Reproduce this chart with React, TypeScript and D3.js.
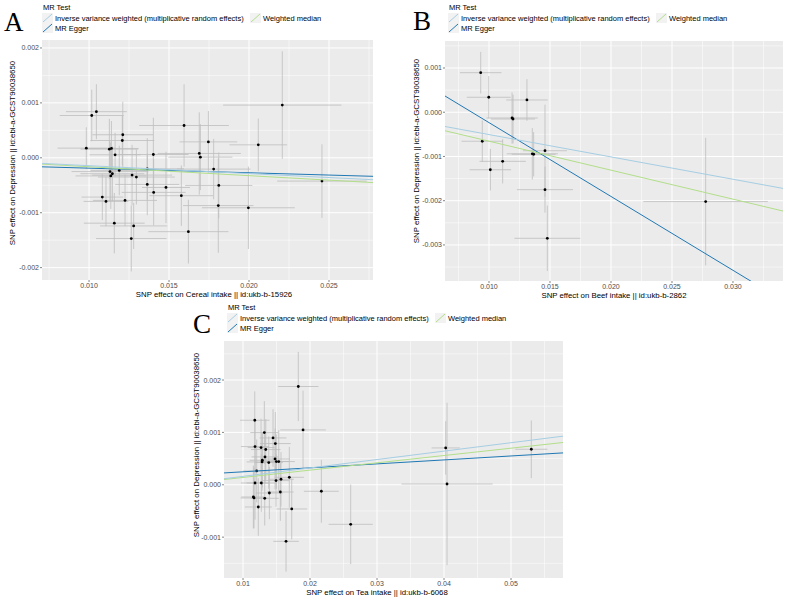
import * as d3 from "d3";

const SANS = "'Liberation Sans', Arial, Helvetica, sans-serif";
const SERIF = "'Liberation Serif', 'Times New Roman', serif";

const methodNames = [
  "Inverse variance weighted (multiplicative random effects)",
  "MR Egger",
  "Weighted median",
];
const methodColors = ["#a6cee3", "#1f78b4", "#b2df8a"];
const legendTitle = "MR Test";
const yTitle = "SNP effect on Depression || id:ebi-a-GCST90038650";

// A - cereal intake
const cerealX = [0.01017, 0.01046, 0.00983, 0.01211, 0.01208, 0.01127, 0.0114, 0.01163, 0.01594, 0.01746, 0.01689, 0.01696, 0.01402, 0.02058, 0.02208, 0.01364, 0.01779, 0.01131, 0.01146, 0.01136, 0.01189, 0.01269, 0.01296, 0.01364, 0.01404, 0.01481, 0.01577, 0.01811, 0.01808, 0.01996, 0.02456, 0.01083, 0.01106, 0.01225, 0.01158, 0.01279, 0.01264, 0.01621];
const cerealY = [0.00077, 0.00084, 0.000176, 0.00042, 0.000315, 0.000158, 0.00017, 0.000055, 0.000588, 0.00029, 0.000079, 0.000012, 0.00006, 0.000236, 0.00096, -0.0002, -0.000206, -0.00025, -0.00029, -0.00033, -0.00023, -0.000315, -0.00035, -0.000485, -0.00063, -0.00054, -0.00069, -0.000503, -0.00087, -0.00091, -0.000424, -0.000715, -0.000794, -0.000776, -0.00119, -0.00124, -0.00147, -0.001345];
const cerealSeX = [0.002, 0.0019, 0.0018, 0.0019, 0.002, 0.0018, 0.0017, 0.0016, 0.0028, 0.0018, 0.0026, 0.002, 0.0022, 0.0018, 0.0037, 0.0023, 0.0023, 0.0024, 0.002, 0.0022, 0.0018, 0.0025, 0.0024, 0.002, 0.002, 0.0015, 0.002, 0.0021, 0.0022, 0.0029, 0.0028, 0.0013, 0.0014, 0.002, 0.0019, 0.0021, 0.0022, 0.0025];
const cerealSeY = [0.00047, 0.0005, 0.00038, 0.0006, 0.00045, 0.00055, 0.0005, 0.0004, 0.00075, 0.00056, 0.00075, 0.0006, 0.00067, 0.00048, 0.00098, 0.00056, 0.00055, 0.00055, 0.0005, 0.0006, 0.00045, 0.00055, 0.0005, 0.00056, 0.0006, 0.00065, 0.00055, 0.0006, 0.00086, 0.00075, 0.00067, 0.00042, 0.00045, 0.00047, 0.00055, 0.00042, 0.0006, 0.00058];
const cerealSlopes = [-0.01437, -0.00837, -0.01627]; // ivw, egger, weighted median
const cerealEggerIntercept = -0.000105;
const cerealXTicks = [0.01, 0.015, 0.02, 0.025];
const cerealYTicks = [-0.002, -0.001, 0, 0.001, 0.002];

// B - beef intake
const beefX = [0.00932, 0.00998, 0.01311, 0.01189, 0.01197, 0.00945, 0.01112, 0.01011, 0.01355, 0.01366, 0.01459, 0.01459, 0.01478, 0.02776];
const beefY = [0.000894, 0.000338, 0.000277, -0.00013, -0.000153, -0.000656, -0.00111, -0.0013, -0.00094, -0.00095, -0.00087, -0.00175, -0.00285, -0.00202];
const beefSeX = [0.0017, 0.0018, 0.0017, 0.0021, 0.0018, 0.0017, 0.0019, 0.0017, 0.0021, 0.0018, 0.0018, 0.0023, 0.0027, 0.0051];
const beefSeY = [0.00047, 0.00048, 0.00047, 0.00058, 0.00055, 0.00047, 0.0005, 0.00047, 0.00058, 0.0005, 0.00104, 0.00052, 0.00074, 0.00144];
const beefSlopes = [-0.0505, -0.1669, -0.0655];
const beefEggerIntercept = 0.001434;
const beefXTicks = [0.01, 0.015, 0.02, 0.025, 0.03];
const beefYTicks = [-0.003, -0.002, -0.001, 0, 0.001];

// C - tea intake
const teaX = [0.01825, 0.01896, 0.01175, 0.01318, 0.01448, 0.01482, 0.01179, 0.01269, 0.01339, 0.01328, 0.01288, 0.01284, 0.01384, 0.01478, 0.01497, 0.01533, 0.01204, 0.01179, 0.01273, 0.01493, 0.01567, 0.01691, 0.02169, 0.01557, 0.01393, 0.01324, 0.01154, 0.01164, 0.01228, 0.01727, 0.01642, 0.02607, 0.04025, 0.04045, 0.05303];
const teaY = [0.001876, 0.001047, 0.001232, 0.000997, 0.000894, 0.000787, 0.00073, 0.00071, 0.000673, 0.000532, 0.000468, 0.000436, 0.000424, 0.000493, 0.000443, 0.000443, 0.000264, 0.000034, 0.000034, 0.00008, 0.000105, 0.000143, -0.000124, -0.000138, -0.000157, -0.000258, -0.000233, -0.000252, -0.000424, -0.000462, -0.00108, -0.000755, 0.000703, 0.000015, 0.000678];
const teaSeX = [0.003, 0.0034, 0.0022, 0.0021, 0.002, 0.0023, 0.0021, 0.002, 0.0022, 0.002, 0.0019, 0.0023, 0.0021, 0.0022, 0.0019, 0.0024, 0.002, 0.0021, 0.0022, 0.002, 0.0019, 0.0022, 0.0026, 0.002, 0.002, 0.0021, 0.0018, 0.002, 0.002, 0.0023, 0.0019, 0.0033, 0.0021, 0.0068, 0.0024];
const teaSeY = [0.00066, 0.00075, 0.00055, 0.0006, 0.00055, 0.0006, 0.0005, 0.00055, 0.00058, 0.0005, 0.00052, 0.00055, 0.0005, 0.00058, 0.00052, 0.0006, 0.0006, 0.0007, 0.00055, 0.0005, 0.00052, 0.00058, 0.0006, 0.00055, 0.0005, 0.00052, 0.0006, 0.00058, 0.00055, 0.00058, 0.00058, 0.00076, 0.00051, 0.00155, 0.00055];
const teaSlopes = [0.01606, 0.00756, 0.01397];
const teaEggerIntercept = 0.000172;
const teaXTicks = [0.01, 0.02, 0.03, 0.04, 0.05];
const teaYTicks = [-0.001, 0, 0.001, 0.002];

const panels = [
  {
    id: "a", letter: "A", letterX: 4, letterY: 31,
    left: 42, right: 373, top: 40, bottom: 280,
    xDomain: [0.00706, 0.02775], yDomain: [-0.002225, 0.002145], xFmt: ".3f",
    xs: cerealX, ys: cerealY, seX: cerealSeX, seY: cerealSeY,
    slopes: cerealSlopes, eggerIntercept: cerealEggerIntercept,
    xTicks: cerealXTicks, yTicks: cerealYTicks,
    xTitle: "SNP effect on Cereal intake || id:ukb-b-15926",
    xTitleX: 214, yTitleX: 12, yTitleY: 153, legendX: 42, legendY: 10,
  },
  {
    id: "b", letter: "B", letterX: 413, letterY: 30,
    left: 445, right: 783, top: 41, bottom: 281,
    xDomain: [0.006393, 0.0341], yDomain: [-0.003815, 0.00161], xFmt: ".3f",
    xs: beefX, ys: beefY, seX: beefSeX, seY: beefSeY,
    slopes: beefSlopes, eggerIntercept: beefEggerIntercept,
    xTicks: beefXTicks, yTicks: beefYTicks,
    xTitle: "SNP effect on Beef intake || id:ukb-b-2862",
    xTitleX: 614, yTitleX: 416, yTitleY: 151, legendX: 448, legendY: 10,
  },
  {
    id: "c", letter: "C", letterX: 193, letterY: 333,
    left: 224, right: 563, top: 341, bottom: 578,
    xDomain: [0.00716, 0.05776], yDomain: [-0.00178, 0.002745], xFmt: ".2f",
    xs: teaX, ys: teaY, seX: teaSeX, seY: teaSeY,
    slopes: teaSlopes, eggerIntercept: teaEggerIntercept,
    xTicks: teaXTicks, yTicks: teaYTicks,
    xTitle: "SNP effect on Tea intake || id:ukb-b-6068",
    xTitleX: 377, yTitleX: 196, yTitleY: 445, legendX: 227, legendY: 310,
  },
];

function minorBreaks(ticks: number[], dom: number[]) {
  const step = ticks[1] - ticks[0];
  const out: number[] = [];
  for (let i = -1; i < ticks.length; i++) {
    const t = ticks[0] + step * (i + 0.5);
    if (t >= dom[0] && t <= dom[1]) out.push(t);
  }
  return out;
}

function Legend({ x, y }: { x: number; y: number }) {
  const key = (kx: number, ky: number, col: string) => (
    <g>
      <rect x={kx} y={ky} width={11} height={10} fill="#f2f2f2" />
      <line x1={kx + 1} y1={ky + 9} x2={kx + 10} y2={ky + 1} stroke={col} strokeWidth={1} />
    </g>
  );
  return (
    <g fontFamily={SANS} fontSize={7.5} fill="#000">
      <text x={x + 1} y={y}>{legendTitle}</text>
      {key(x, y + 3, methodColors[0])}
      <text x={x + 13} y={y + 11}>{methodNames[0]}</text>
      {key(x + 208, y + 3, methodColors[2])}
      <text x={x + 221} y={y + 11}>{methodNames[2]}</text>
      {key(x, y + 13, methodColors[1])}
      <text x={x + 13} y={y + 21}>{methodNames[1]}</text>
    </g>
  );
}

function Panel({ c }: { c: any }) {
  const x = d3.scaleLinear().domain(c.xDomain).range([c.left, c.right]);
  const y = d3.scaleLinear().domain(c.yDomain).range([c.bottom, c.top]);
  const fx = d3.format(c.xFmt);
  const fy = d3.format(".3f");
  const clean = (s: string) => s.replace("\u2212", "-");
  const pts = c.xs.map((v: number, i: number) => ({ bx: v, by: c.ys[i], sx: c.seX[i], sy: c.seY[i] }));
  const [x0, x1] = c.xDomain;
  // draw order follows mr() output: Egger, weighted median, IVW
  const ablines = [
    { a: c.eggerIntercept, b: c.slopes[1], col: methodColors[1] },
    { a: 0, b: c.slopes[2], col: methodColors[2] },
    { a: 0, b: c.slopes[0], col: methodColors[0] },
  ];
  const clipId = `clip-${c.id}`;
  return (
    <g>
      <defs>
        <clipPath id={clipId}>
          <rect x={c.left} y={c.top} width={c.right - c.left} height={c.bottom - c.top} />
        </clipPath>
      </defs>
      <rect x={c.left} y={c.top} width={c.right - c.left} height={c.bottom - c.top} fill="#ebebeb" />
      <g stroke="#ffffff">
        {minorBreaks(c.xTicks, c.xDomain).map((t: number) => (
          <line key={`mx${t}`} x1={x(t)} x2={x(t)} y1={c.top} y2={c.bottom} strokeWidth={0.5} />
        ))}
        {minorBreaks(c.yTicks, c.yDomain).map((t: number) => (
          <line key={`my${t}`} x1={c.left} x2={c.right} y1={y(t)} y2={y(t)} strokeWidth={0.5} />
        ))}
        {c.xTicks.map((t: number) => (
          <line key={`gx${t}`} x1={x(t)} x2={x(t)} y1={c.top} y2={c.bottom} strokeWidth={1} />
        ))}
        {c.yTicks.map((t: number) => (
          <line key={`gy${t}`} x1={c.left} x2={c.right} y1={y(t)} y2={y(t)} strokeWidth={1} />
        ))}
      </g>
      <g clipPath={`url(#${clipId})`}>
        <g stroke="#bebebe" strokeWidth={0.8}>
          {pts.map((p: any, i: number) => (
            <line key={`ev${i}`} x1={x(p.bx)} x2={x(p.bx)} y1={y(p.by - p.sy)} y2={y(p.by + p.sy)} />
          ))}
          {pts.map((p: any, i: number) => (
            <line key={`eh${i}`} x1={x(p.bx - p.sx)} x2={x(p.bx + p.sx)} y1={y(p.by)} y2={y(p.by)} />
          ))}
        </g>
        {pts.map((p: any, i: number) => (
          <circle key={`pt${i}`} cx={x(p.bx)} cy={y(p.by)} r={1.4} fill="#000" />
        ))}
        {ablines.map((l, i) => (
          <line key={`ab${i}`} x1={x(x0)} y1={y(l.a + l.b * x0)} x2={x(x1)} y2={y(l.a + l.b * x1)}
            stroke={l.col} strokeWidth={1} />
        ))}
      </g>
      {/* axes */}
      <g fontFamily={SANS} fontSize={7} fill="#4d4d4d">
        {c.xTicks.map((t: number) => (
          <g key={`tx${t}`}>
            <line x1={x(t)} x2={x(t)} y1={c.bottom} y2={c.bottom + 2} stroke="#333" strokeWidth={0.6} />
            <text x={x(t)} y={c.bottom + 7.6} textAnchor="middle">{clean(fx(t))}</text>
          </g>
        ))}
        {c.yTicks.map((t: number) => (
          <g key={`ty${t}`}>
            <line x1={c.left - 2} x2={c.left} y1={y(t)} y2={y(t)} stroke="#333" strokeWidth={0.6} />
            <text x={c.left - 3} y={y(t) + 2.5} textAnchor="end">{clean(fy(t))}</text>
          </g>
        ))}
      </g>
      <text x={c.xTitleX} y={c.bottom + 16.6} textAnchor="middle" fontFamily={SANS} fontSize={7.8} fill="#000">
        {c.xTitle}
      </text>
      <text transform={`translate(${c.yTitleX},${c.yTitleY}) rotate(-90)`} dy="0.35em" textAnchor="middle"
        fontFamily={SANS} fontSize={7.9} fill="#000">
        {yTitle}
      </text>
      <Legend x={c.legendX} y={c.legendY} />
      <text x={c.letterX} y={c.letterY} fontFamily={SERIF} fontSize={27} fill="#000">{c.letter}</text>
    </g>
  );
}

export default function App() {
  return (
    <svg width={789} height={600} viewBox="0 0 789 600"
      style={{ position: "absolute", left: 0, top: 0, background: "#fff" }}>
      {panels.map((c) => (
        <Panel key={c.id} c={c} />
      ))}
    </svg>
  );
}
